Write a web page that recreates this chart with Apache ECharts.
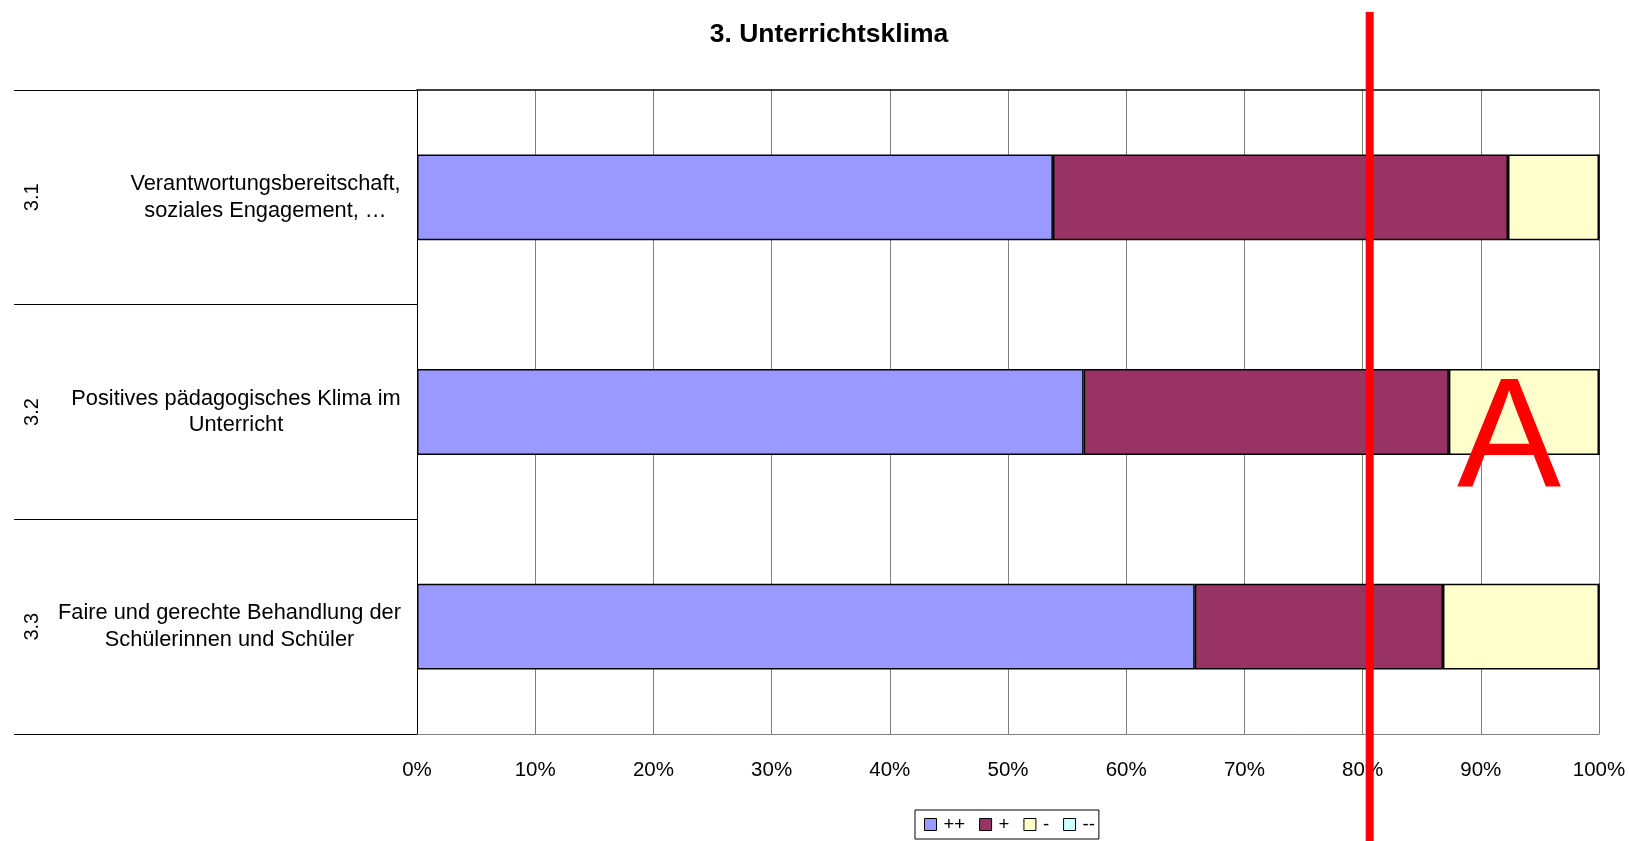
<!DOCTYPE html>
<html>
<head>
<meta charset="utf-8">
<script src="https://cdn.jsdelivr.net/npm/echarts@6/dist/echarts.min.js"></script>
<style>
html,body{margin:0;padding:0;background:#fff;}
#chart{width:1629px;height:841px;}
</style>
</head>
<body>
<div id="chart"></div>
<script>
// ---- data ----
const titleText = '3. Unterrichtsklima';
const categoryCodes = ['3.1', '3.2', '3.3'];
const categories = [
  'Verantwortungsbereitschaft,\nsoziales Engagement, …',
  'Positives pädagogisches Klima im\nUnterricht',
  'Faire und gerechte Behandlung der\nSchülerinnen und Schüler'
];
const seriesNames = ['++', '+', '-', '--'];
const valuesPlusPlus = [53.8, 56.4, 65.8];
const valuesPlus = [38.5, 30.9, 21.0];
const valuesMinus = [7.7, 12.7, 13.2];
const valuesMinusMinus = [0, 0, 0];
const xTicks = [0, 10, 20, 30, 40, 50, 60, 70, 80, 90, 100];
const markerValue = 80.6;     // red annotation line (percent)
const markerLetter = 'A';

// ---- styles ----
const FONT = '"Liberation Sans", Arial, Helvetica, sans-serif';
const colors = ['#9999FF', '#993366', '#FFFFCC', '#CCFFFF'];
const labelFontSize = 21.8;

// measure widths so multi-line labels are centred within their block
const cv = document.createElement('canvas').getContext('2d');
cv.font = labelFontSize + 'px ' + FONT;
const rich = {};
categories.forEach((c, i) => {
  const w = Math.max(...c.split('\n').map(l => cv.measureText(l).width));
  rich['r' + i] = {
    width: Math.ceil(w) + 2, align: 'center',
    fontSize: labelFontSize, lineHeight: 26.5, fontFamily: FONT, color: '#000'
  };
});

const chart = echarts.init(document.getElementById('chart'), null, {renderer: 'canvas'});
const allValues = [valuesPlusPlus, valuesPlus, valuesMinus, valuesMinusMinus];

const option = {
  backgroundColor: '#fff',
  animation: false,
  title: {
    text: titleText,
    left: 829, top: 21, textAlign: 'center', padding: 0,
    textStyle: {fontFamily: FONT, fontSize: 26.5, fontWeight: 'bold', color: '#000'}
  },
  legend: {
    data: seriesNames,
    left: 915, top: 810,
    orient: 'horizontal',
    padding: [5, 4, 5, 9],
    itemGap: 14,
    itemWidth: 12, itemHeight: 12,
    icon: 'rect',
    borderColor: '#000', borderWidth: 1,
    textStyle: {fontFamily: FONT, fontSize: 18.5, color: '#000', padding: [0, 0, 0, 2]},
    itemStyle: {borderColor: '#000', borderWidth: 1}
  },
  grid: {left: 417, right: 30, top: 90, bottom: 107, containLabel: false},
  xAxis: [{
    type: 'value', min: 0, max: 100, interval: 10,
    axisLine: {show: true, lineStyle: {color: '#808080', width: 1}},
    axisTick: {show: false},
    splitLine: {show: true, lineStyle: {color: '#808080', width: 1}},
    axisLabel: {
      formatter: v => xTicks.includes(v) ? v + '%' : '',
      fontFamily: FONT, fontSize: 20.5, color: '#000', margin: 26
    }
  }, {
    type: 'value', min: 0, max: 100, position: 'top',
    axisLine: {show: true, lineStyle: {color: '#000', width: 1.5}},
    axisTick: {show: false}, axisLabel: {show: false}, splitLine: {show: false}
  }],
  yAxis: [{
    type: 'category', data: categories, inverse: true,
    axisLine: {show: true, lineStyle: {color: '#000', width: 1}},
    axisTick: {show: true, length: 403, interval: 0, lineStyle: {color: '#000', width: 1}},
    axisLabel: {
      interval: 0, margin: 15,
      formatter: (value, idx) => value.split('\n').map(l => '{r' + idx + '|' + l + '}').join('\n'),
      rich: rich
    },
    splitLine: {show: false}
  }, {
    type: 'category', data: categoryCodes, inverse: true, position: 'left',
    axisLine: {show: false}, axisTick: {show: false}, splitLine: {show: false},
    axisLabel: {interval: 0, rotate: 90, margin: 375, fontFamily: FONT, fontSize: 20, color: '#000'}
  }],
  series: seriesNames.map((name, i) => ({
    name: name, type: 'bar', stack: 'total',
    xAxisIndex: 0, yAxisIndex: 0,
    barCategoryGap: '60%',
    data: allValues[i],
    itemStyle: {color: colors[i], borderColor: '#000', borderWidth: 1.5},
    emphasis: {disabled: true}
  }))
};
chart.setOption(option);

// red annotation line and letter, positioned from the value scale
const mx = chart.convertToPixel({xAxisIndex: 0}, markerValue);
chart.setOption({
  graphic: [{
    type: 'line', z: 100,
    shape: {x1: mx, y1: 12, x2: mx, y2: 841},
    style: {stroke: '#FF0000', lineWidth: 8}
  }, {
    type: 'text', z: 100,
    x: 1457, y: 443,
    style: {text: markerLetter, font: 'normal 156px ' + FONT, fill: '#FF0000',
            textAlign: 'left', textVerticalAlign: 'middle'}
  }]
});
</script>
</body>
</html>
